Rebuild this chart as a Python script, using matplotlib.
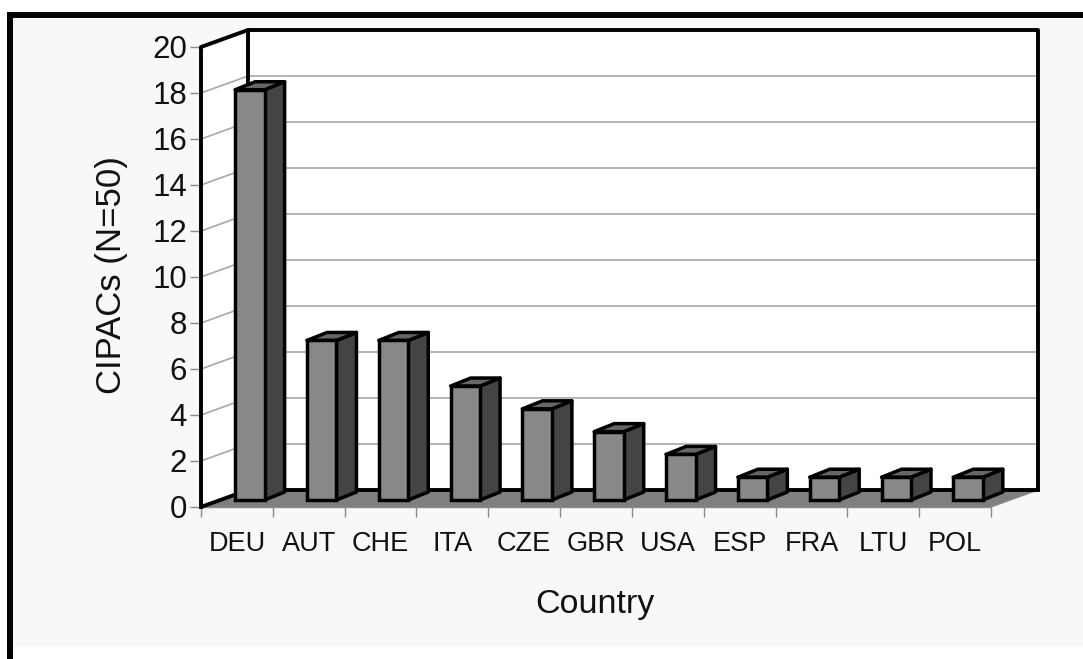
import matplotlib
matplotlib.use("Agg")
import matplotlib.pyplot as plt
from matplotlib.patches import Polygon, Rectangle
from matplotlib.transforms import Affine2D, IdentityTransform

categories = ["DEU", "AUT", "CHE", "ITA", "CZE", "GBR", "USA", "ESP", "FRA", "LTU", "POL"]
values = [18, 7, 7, 5, 4, 3, 2, 1, 1, 1, 1]
y_ticks = [0, 2, 4, 6, 8, 10, 12, 14, 16, 18, 20]
x_label = "Country"
y_label = "CIPACs (N=50)"

W, H = 1083, 659
BG = "#f8f8f8"
GRID = "#a8a8a8"
plt.rcParams["font.family"] = ["Liberation Sans", "DejaVu Sans"]

fig = plt.figure(figsize=(W / 100, H / 100), dpi=100, facecolor="white")

def fr(x0, y0, x1, y1, color, z=0):
    fig.patches.append(Rectangle((x0 / W, 1 - y1 / H), (x1 - x0) / W, (y1 - y0) / H,
                                 transform=fig.transFigure, facecolor=color,
                                 edgecolor="none", zorder=z))

fr(13, 18, W, 647, BG)
fr(7, 12, W, 18, "black", 1)
fr(7, 12, 13, H, "black", 1)

ax = fig.add_axes([201 / W, (H - 507) / H, 790 / W, 460 / H])
ax.set_zorder(5)
ax.patch.set_visible(False)
for s in ax.spines.values():
    s.set_visible(False)
ax.set_xlim(-0.5, len(categories) - 0.5)
ax.set_ylim(0, 20)

DX, DY = 47, 17            # wall depth in pixels
x_lo, x_hi = ax.get_xlim()
idt = IdentityTransform()

def P(x, y, dx=0, dy=0):
    a = ax.transData.transform((x, y))
    return (a[0] + dx, a[1] + dy)

def poly(pts, fc, ec="black", lw=2.2, z=2):
    ax.add_patch(Polygon(pts, closed=True, transform=idt, facecolor=fc, edgecolor=ec,
                         linewidth=lw, joinstyle="round", clip_on=False, zorder=z))

def line(a, b, color, lw, z):
    ax.plot([a[0], b[0]], [a[1], b[1]], transform=idt, color=color, lw=lw,
            clip_on=False, zorder=z, solid_capstyle="round")

# walls
poly([P(x_lo, 0), P(x_lo, 0, DX, DY), P(x_hi, 0, DX, DY), P(x_hi, 0)], "#7f7f7f", ec="none", z=1)
poly([P(x_lo, 0, DX, DY), P(x_lo, 20, DX, DY), P(x_hi, 20, DX, DY), P(x_hi, 0, DX, DY)], "white", ec="none", z=1)
poly([P(x_lo, 0), P(x_lo, 20), P(x_lo, 20, DX, DY), P(x_lo, 0, DX, DY)], "white", ec="none", z=1)

# gridlines
for v in y_ticks[1:-1]:
    line(P(x_lo, v), P(x_lo, v, DX, DY), GRID, 1.2, 1.5)
    line(P(x_lo, v, DX, DY), P(x_hi, v, DX, DY), GRID, 1.2, 1.5)

# floor front and side edges
line(P(x_lo, 0), P(x_hi, 0), "#8a8a8a", 1.0, 1.6)
line(P(x_hi, 0), P(x_hi, 0, DX, DY), "#8a8a8a", 1.0, 1.6)

# wall outlines
lw = 2.8
outline = [P(x_lo, 0), P(x_lo, 20), P(x_lo, 20, DX, DY), P(x_hi, 20, DX, DY), P(x_hi, 0, DX, DY)]
ax.plot([p[0] for p in outline], [p[1] for p in outline], transform=idt, color="black",
        lw=lw, clip_on=False, zorder=1.8, solid_joinstyle="round")
line(P(x_lo, 0), P(x_lo, 0, DX, DY), "black", lw, 1.8)
line(P(x_lo, 0, DX, DY), P(x_hi, 0, DX, DY), "black", lw, 1.8)
line(P(x_lo, 20, DX, DY), P(x_lo, 0, DX, DY), "black", lw, 1.8)

# bars
BX, BY = 13, 7            # front face offset of the bars
SX, SY = 20, 8            # bar depth
Y0 = P(0, 0)[1]
bar_tr = ax.transData + Affine2D().translate(0, -Y0).scale(1, 0.991).translate(BX, Y0 + BY)
width = 0.41
positions = list(range(len(categories)))
bars = ax.bar(positions, values, width=width, color="#888888", edgecolor="black",
              linewidth=2.5, transform=bar_tr, zorder=3, clip_on=False)
for b in bars:
    x0, x1 = b.get_x(), b.get_x() + b.get_width()
    h = b.get_height()
    bl = bar_tr.transform((x0, 0)); br = bar_tr.transform((x1, 0))
    tl = bar_tr.transform((x0, h)); tr = bar_tr.transform((x1, h))
    poly([br, tr, (tr[0] + SX, tr[1] + SY), (br[0] + SX, br[1] + SY)], "#444444", lw=2.5, z=2.8)
    poly([tl, (tl[0] + SX, tl[1] + SY), (tr[0] + SX, tr[1] + SY), tr], "#666666", lw=2.5, z=2.8)

ax.set_xlim(x_lo, x_hi)
ax.set_ylim(0, 20)

# axes ticks
ax.set_yticks(y_ticks)
ax.tick_params(axis="y", length=8, width=1, color="#8a8a8a", pad=2, labelsize=22.5, labelcolor="#111111")
ax.set_xticks([i - 0.5 for i in range(len(categories) + 1)])
ax.set_xticklabels([])
ax.set_xticks(positions, minor=True)
ax.set_xticklabels(categories, minor=True)
ax.tick_params(axis="x", which="major", length=7.5, width=1, color="#8a8a8a")
ax.tick_params(axis="x", which="minor", length=0, pad=17.5, labelsize=19.5, labelcolor="#111111")

fig.text(595 / W, 1 - 604 / H, x_label, fontsize=24.5, color="#111111", ha="center", va="center", zorder=6)
fig.text(111 / W, 1 - 275 / H, y_label, fontsize=25, color="#111111", ha="center", va="center", rotation=90, zorder=6)

fig.savefig("out.png", dpi=100, facecolor=fig.get_facecolor())
